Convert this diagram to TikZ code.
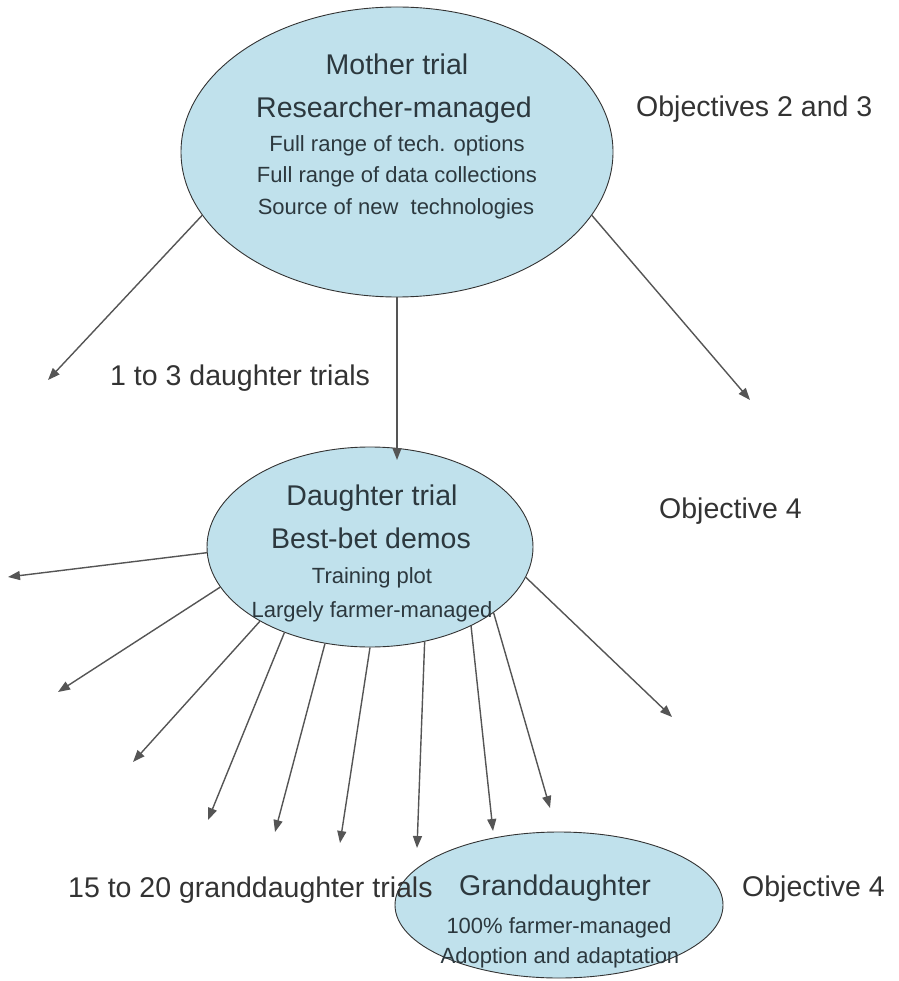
\documentclass[tikz,border=0pt]{standalone}
\usepackage{fontspec}
\setmainfont{Liberation Sans}
\usetikzlibrary{shapes.geometric}
\usetikzlibrary{arrows.meta}
\definecolor{trialfill}{RGB}{192,225,236}
\definecolor{trialtext}{RGB}{44,56,62}
\definecolor{arrowgrey}{RGB}{85,85,85}
\tikzstyle{trial}=[ellipse, draw=black!80, fill=trialfill, inner sep=0pt, line width=0.9pt]
\tikzstyle{big line}=[anchor=base, text=trialtext, inner sep=0pt, font=\fontsize{28.5}{34}\selectfont]
\tikzstyle{small line}=[anchor=base, text=trialtext, inner sep=0pt, font=\fontsize{22}{26}\selectfont]
\tikzstyle{side label}=[anchor=base west, text=black!80, inner sep=0pt, font=\fontsize{28.5}{34}\selectfont]
\tikzstyle{spread}=[draw=arrowgrey, line width=1.4pt, -{Triangle[length=12pt,width=9pt]}]

\begin{document}
\begin{tikzpicture}[x=1pt, y=-1pt]
  \useasboundingbox (0,0) rectangle (898,981);
  \node[trial, minimum width=432pt, minimum height=290pt] (mother) at (397,152) {};
  \node[trial, minimum width=326pt, minimum height=200pt] (daughter) at (370,547) {};
  \node[trial, minimum width=328pt, minimum height=146pt] (grand) at (559,905) {};

  \node[big line] (mother title) at (397,75) {Mother trial};
  \node[big line] (mother role) at (394,118) {Researcher-managed};
  \node[small line] (mother options) at (397,152) {Full range of tech. options};
  \node[small line] (mother data) at (397,183) {Full range of data collections};
  \node[small line] (mother source) at (396,215) {Source of new\ \ technologies};

  \node[big line] (daughter title) at (372,505) {Daughter trial};
  \node[big line] (daughter role) at (371,548) {Best-bet demos};
  \node[small line] (daughter plot) at (372,583) {Training plot};
  \node[small line] (daughter managed) at (372,617) {Largely farmer-managed};

  \node[big line] (grand title) at (555,895) {Granddaughter};
  \node[small line] (grand managed) at (559,933) {100\% farmer-managed};
  \node[small line] (grand adoption) at (560,963) {Adoption and adaptation};

  \node[side label] (objectives top) at (636,117) {Objectives 2 and 3};
  \node[side label] (daughter count) at (110,385) {1 to 3 daughter trials};
  \node[side label] (objective mid) at (659,518) {Objective 4};
  \node[side label] (grand count) at (68,897) {15 to 20 granddaughter trials};
  \node[side label] (objective low) at (742,896) {Objective 4};

  \coordinate (mother left) at (48,380);
  \coordinate (mother down) at (397,460);
  \coordinate (mother right) at (750,400);
  \draw[spread] (mother.198) -- (mother left);
  \draw[spread] (mother.south) -- (mother down);
  \draw[spread] (mother.342) -- (mother right);

  \foreach \a/\x/\y [count=\i] in {182/8/577, 195/58/692, 214/133/762,
      225/208/820, 245/275/832, 270/340/843, 300/417/848, 322/493/831,
      332/550/808, 349/672/717}
  {
    \coordinate (grand tip \i) at (\x,\y);
    \draw[spread] (daughter.\a) -- (grand tip \i);
  }
\end{tikzpicture}
\end{document}
